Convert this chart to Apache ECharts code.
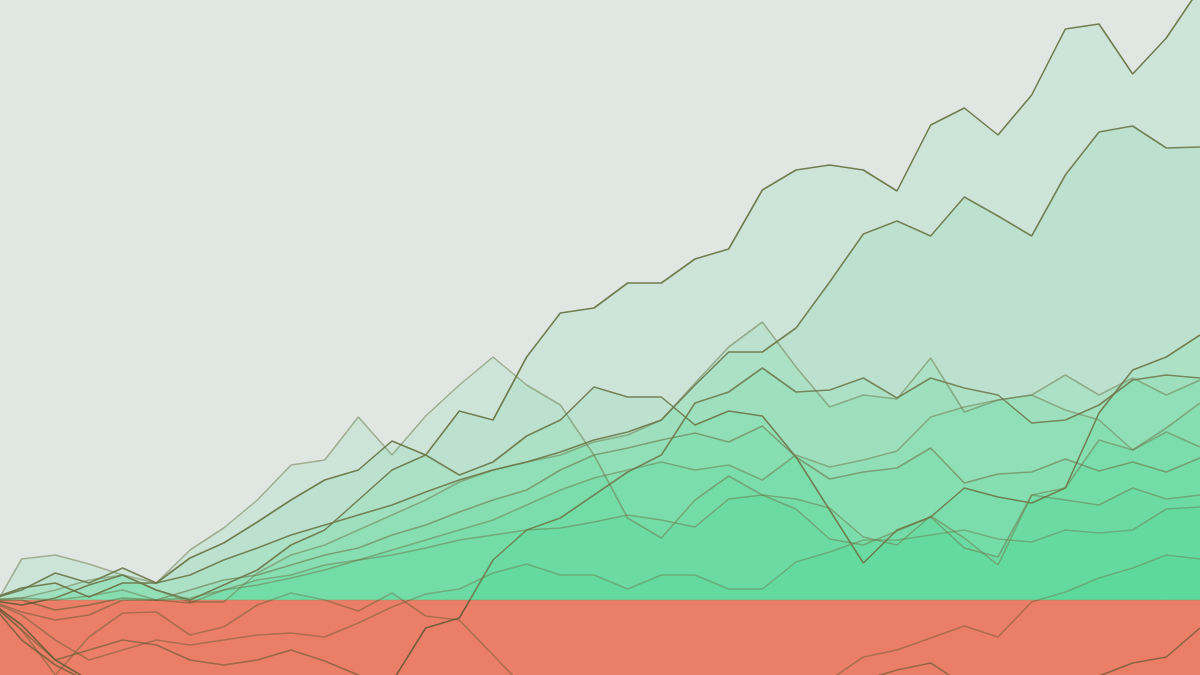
<!DOCTYPE html>
<html>
<head>
<meta charset="utf-8">
<style>html,body{margin:0;padding:0;background:#e0e6e2;}#chart{width:1200px;height:675px;}</style>
<script src="https://cdn.jsdelivr.net/npm/echarts@6/dist/echarts.min.js"></script>
</head>
<body>
<div id="chart"></div>
<script>
// 37 periods (index 0..36); the first one sits just left of the visible area
const periods = Array.from({length: 37}, (_, i) => i);

const seriesA = [0, 1.2, 1.7, 0.3, 1.7, 1.7, 4.2, 5.7, 7.8, 10.0, 12.0, 13.0, 15.9, 14.5, 18.9, 18.0, 24.3, 28.7, 29.2, 31.7, 31.7, 34.1, 35.1, 41.0, 43.0, 43.5, 43.0, 40.9, 47.5, 49.2, 46.5, 50.5, 57.1, 57.6, 52.6, 56.2, 61.2];
const seriesB = [0, 1.0, 2.7, 1.7, 3.2, 1.7, 2.5, 4.0, 5.2, 6.5, 7.5, 8.5, 9.5, 10.8, 12.0, 13.0, 13.8, 14.8, 16.0, 16.8, 18.0, 21.5, 24.8, 24.8, 27.2, 31.8, 36.6, 37.9, 36.4, 40.3, 38.4, 36.4, 42.5, 46.8, 47.4, 45.2, 45.3];
const seriesC = [-1.8, 4.1, 4.5, 3.6, 2.5, 1.7, 5.0, 7.2, 10.0, 13.5, 14.0, 18.3, 14.5, 18.4, 21.5, 24.3, 21.5, 19.5, 14.5, 8.2, 6.2, 10.0, 12.4, 10.5, 9.1, 6.1, 5.5, 6.9, 8.3, 5.2, 4.3, 10.5, 11.2, 16.0, 15.0, 17.2, 19.7];
const seriesD = [0, -0.5, 0.2, 1.5, 2.5, 1.0, 0, 1.5, 3.0, 5.5, 7.0, 10.0, 13.0, 14.5, 12.5, 13.8, 16.4, 18.0, 21.3, 20.3, 20.3, 17.5, 18.9, 18.4, 14.3, 9.0, 3.7, 7.0, 8.3, 11.2, 10.3, 9.7, 11.2, 18.7, 23.0, 24.3, 26.5];
const seriesE = [0, -2.5, -6.0, -8.0, -10.0, -11.0, -11.5, -11.5, -11.0, -10.5, -10.0, -9.0, -8.2, -2.8, -1.8, 4.0, 7.0, 8.2, 10.5, 12.8, 14.5, 19.7, 20.8, 23.2, 20.8, 21.0, 22.2, 20.2, 22.2, 21.2, 20.5, 17.7, 18.0, 19.5, 22.0, 22.5, 22.2];
const seriesF = [0, 0.2, 1.0, 2.0, 2.5, 1.0, -0.2, -0.2, 2.7, 4.5, 5.5, 7.0, 8.5, 10.0, 11.8, 13.0, 13.8, 14.5, 15.8, 16.5, 18.0, 21.7, 25.3, 27.8, 23.3, 19.3, 20.5, 20.1, 24.2, 18.8, 20.0, 20.5, 22.5, 20.5, 22.2, 20.5, 22.0];
const seriesG = [0, 0.2, 0, 0.4, 1.0, 0, 0.2, 1.0, 1.5, 2.2, 3.0, 4.0, 5.0, 6.0, 7.0, 8.0, 9.5, 11.0, 12.2, 13.0, 13.8, 13.0, 13.5, 12.0, 14.5, 13.3, 14.0, 14.9, 18.3, 19.3, 20.0, 20.5, 19.0, 18.0, 15.0, 16.8, 15.3];
const seriesH = [0, 0, -1.0, -0.5, 0.2, 0, 1.0, 2.0, 2.5, 3.5, 4.5, 5.2, 6.5, 7.5, 8.8, 10.0, 11.0, 13.0, 14.5, 15.2, 16.0, 16.7, 15.8, 17.4, 14.3, 12.1, 12.8, 13.2, 15.2, 11.7, 12.6, 12.8, 14.1, 12.9, 13.8, 12.8, 14.2];
const seriesI = [0, -1.2, -2.0, -1.5, 0, 0, -0.3, 1.0, 2.0, 2.5, 3.5, 4.0, 4.5, 5.2, 6.0, 6.5, 7.0, 7.2, 7.8, 8.5, 8.0, 7.3, 10.1, 10.5, 10.1, 9.2, 6.3, 5.5, 8.4, 6.2, 3.5, 10.5, 10.0, 9.5, 11.2, 10.1, 10.5];
const seriesJ = [0, -1.5, -4.0, -6.0, -5.0, -4.0, -4.5, -4.0, -3.5, -3.3, -3.7, -2.3, -0.7, 0.6, 1.1, 2.7, 3.6, 2.5, 2.5, 1.1, 2.5, 2.5, 1.1, 1.1, 3.8, 4.8, 6.0, 6.0, 6.5, 7.0, 6.1, 5.8, 7.0, 6.7, 7.0, 9.1, 9.3];
const seriesK = [0, -3.0, -7.5, -3.7, -1.3, -1.2, -3.5, -2.7, -0.5, 0.7, 0, -1.1, 0.7, -1.6, -2.0, -5.5, -9.0, -10.0, -10.5, -11.0, -10.5, -10.0, -10.0, -9.5, -9.0, -8.0, -5.7, -5.0, -3.8, -2.6, -3.7, -0.2, 0.8, 2.2, 3.2, 4.5, 4.1];
const seriesL = [0, -4.0, -6.5, -8.2, -9.5, -10.5, -11.2, -10.8, -11.6, -12.2, -11.8, -12.6, -13.0, -12.4, -13.3, -12.8, -13.5, -14.0, -13.2, -13.8, -14.4, -13.6, -14.2, -13.8, -13.0, -13.4, -12.2, -12.6, -11.8, -11.2, -10.6, -10.0, -9.0, -7.6, -6.3, -5.7, -2.8];
const seriesM = [0, -3.0, -6.0, -5.0, -4.0, -4.5, -6.0, -6.5, -6.0, -5.0, -6.1, -7.5, -9.0, -10.0, -11.0, -10.5, -11.5, -12.0, -11.2, -11.8, -10.8, -11.4, -10.6, -10.0, -9.5, -8.8, -8.0, -7.0, -6.3, -8.5, -9.5, -10.2, -10.8, -10.0, -11.2, -10.6, -11.5];
const baseline = periods.map(() => 0);

const allSeries = [seriesA, seriesB, seriesC, seriesD, seriesE, seriesF, seriesG, seriesH, seriesI, seriesJ, seriesK, seriesL, seriesM];
const lineOpacity = [0.95, 0.9, 0.5, 0.9, 0.85, 0.5, 0.5, 0.6, 0.5, 0.45, 0.45, 0.7, 0.6];

const pairs = (arr) => arr.map((v, i) => [periods[i], v]);

const H = 675, ZERO = 600 / 675;
function lineColor(op) {
  const up = 'rgba(108,120,74,' + op + ')';
  const down = 'rgba(92,86,48,' + Math.min(1, op * 0.95) + ')';
  return new echarts.graphic.LinearGradient(0, 0, 0, H, [
    {offset: 0, color: up}, {offset: ZERO, color: up},
    {offset: ZERO, color: down}, {offset: 1, color: down}
  ], true);
}

const series = [];
allSeries.forEach((d) => {
  series.push({
    type: 'line', data: pairs(d), symbol: 'none', silent: true, z: 1,
    lineStyle: {width: 0, opacity: 0},
    areaStyle: {color: 'rgb(40,212,125)', opacity: 0.1}
  });
});
series.push({
  type: 'line', data: pairs(baseline), symbol: 'none', silent: true, z: 2,
  lineStyle: {width: 1, color: 'rgba(150,150,95,0.5)'},
  areaStyle: {color: '#ea7e66', opacity: 1, origin: 'start'}
});
allSeries.forEach((d, i) => {
  series.push({
    type: 'line', data: pairs(d), symbol: 'none', silent: true, z: 3,
    lineStyle: {width: 1.6, color: lineColor(lineOpacity[i])}
  });
});

const chart = echarts.init(document.getElementById('chart'));
chart.setOption({
  backgroundColor: '#e0e6e2',
  animation: false,
  grid: {left: 0, right: 0, top: 0, bottom: 0},
  xAxis: {type: 'value', min: 0.3565, max: 36, show: false, splitLine: {show: false}},
  yAxis: {type: 'value', min: -7.5, max: 60, show: false, splitLine: {show: false}},
  series: series
});
</script>
</body>
</html>
